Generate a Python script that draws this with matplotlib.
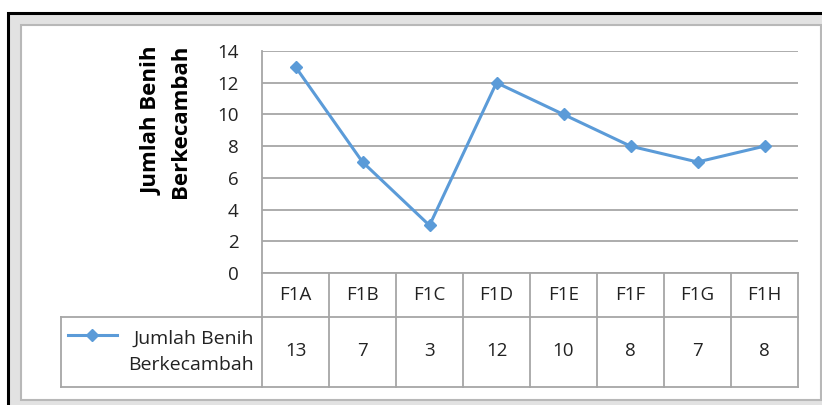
import numpy as np
import matplotlib.pyplot as plt
from matplotlib.patches import Rectangle

# datos del grafico
kategori = ["F1A", "F1B", "F1C", "F1D", "F1E", "F1F", "F1G", "F1H"]
jumlah = [13, 7, 3, 12, 10, 8, 7, 8]
nama_seri = "Jumlah Benih\nBerkecambah"
ytick_vals = [0, 2, 4, 6, 8, 10, 12, 14]

azul = "#5B9BD8"
gris = "#A6A6A6"
W, H = 822, 405

plt.rcParams['font.family'] = ['Open Sans', 'DejaVu Sans']

fig = plt.figure(figsize=(W / 100, H / 100), dpi=100)

def caja(x0, y0, x1, y1):
    # pixeles (y desde arriba) -> fraccion de figura
    return [x0 / W, 1 - y1 / H, (x1 - x0) / W, (y1 - y0) / H]

# marco exterior estilo Excel
fig.patches.append(Rectangle((0, 0), 1, 1, transform=fig.transFigure,
                             facecolor="white", edgecolor="none", zorder=-5))
l, b, w, h = caja(8, 13, 830, 410)
fig.patches.append(Rectangle((l, b), w, h, transform=fig.transFigure,
                             facecolor="#E2E2E2", edgecolor="black", lw=2.2, zorder=-4))
l, b, w, h = caja(21, 25, 821, 400)
fig.patches.append(Rectangle((l, b), w, h, transform=fig.transFigure,
                             facecolor="white", edgecolor="#B8B8B8", lw=1.5, zorder=-3))

# area del grafico
ax = fig.add_axes(caja(262, 51, 798, 273))
x = np.arange(len(kategori))
ax.plot(x, jumlah, color=azul, lw=2.2, marker="D", markersize=6.5,
        markeredgecolor=azul, markerfacecolor=azul)
ax.set_xlim(-0.5, len(kategori) - 0.5)
ax.set_ylim(0, 14)
ax.set_yticks(ytick_vals)
ax.set_xticks([])
ax.yaxis.grid(True, color=gris, lw=1.3)
ax.set_axisbelow(True)
for s in ["top", "right", "bottom"]:
    ax.spines[s].set_visible(False)
ax.spines["left"].set_color(gris)
ax.spines["left"].set_linewidth(1.3)
ax.tick_params(axis="y", length=0, pad=17, labelsize=13.5, labelcolor="#222222")
ax.patch.set_alpha(0)

fig.text(166 / W, 1 - 121 / H, nama_seri, rotation=90, ha="center", va="center",
         fontsize=16, fontweight="bold", multialignment="center", linespacing=1.45)

# tabla de datos
tb = fig.add_axes(caja(61, 273, 798, 387))
n = len(kategori)
tb.set_xlim(-3.5, n - 0.5)
tb.set_ylim(114, 0)
tb.axis("off")
tb.patch.set_alpha(0)
kw = dict(color=gris, lw=1.3, clip_on=False)
tb.plot([-0.5, n - 0.5], [0, 0], **kw)
tb.plot([-3.5, n - 0.5], [44, 44], **kw)
tb.plot([-3.5, n - 0.5], [114, 114], **kw)
tb.plot([-3.5, -3.5], [44, 114], **kw)
for k in range(n + 1):
    tb.plot([k - 0.5, k - 0.5], [0, 114], **kw)
for i, (c, v) in enumerate(zip(kategori, jumlah)):
    tb.text(i, 22, c, ha="center", va="center", fontsize=13.5, color="#222222")
    tb.text(i, 78, str(v), ha="center", va="center", fontsize=13.5, color="#222222")

# clave de leyenda
tb.plot([-3.40, -3.03, -2.66], [62, 62, 62], color=azul, lw=2.2, marker="D",
        markevery=[1], markersize=6.5, clip_on=False)
tb.text(-0.62, 79, nama_seri, ha="right", va="center", fontsize=14,
        color="#222222", multialignment="right", linespacing=1.6)

fig.savefig("out.png", dpi=100)
